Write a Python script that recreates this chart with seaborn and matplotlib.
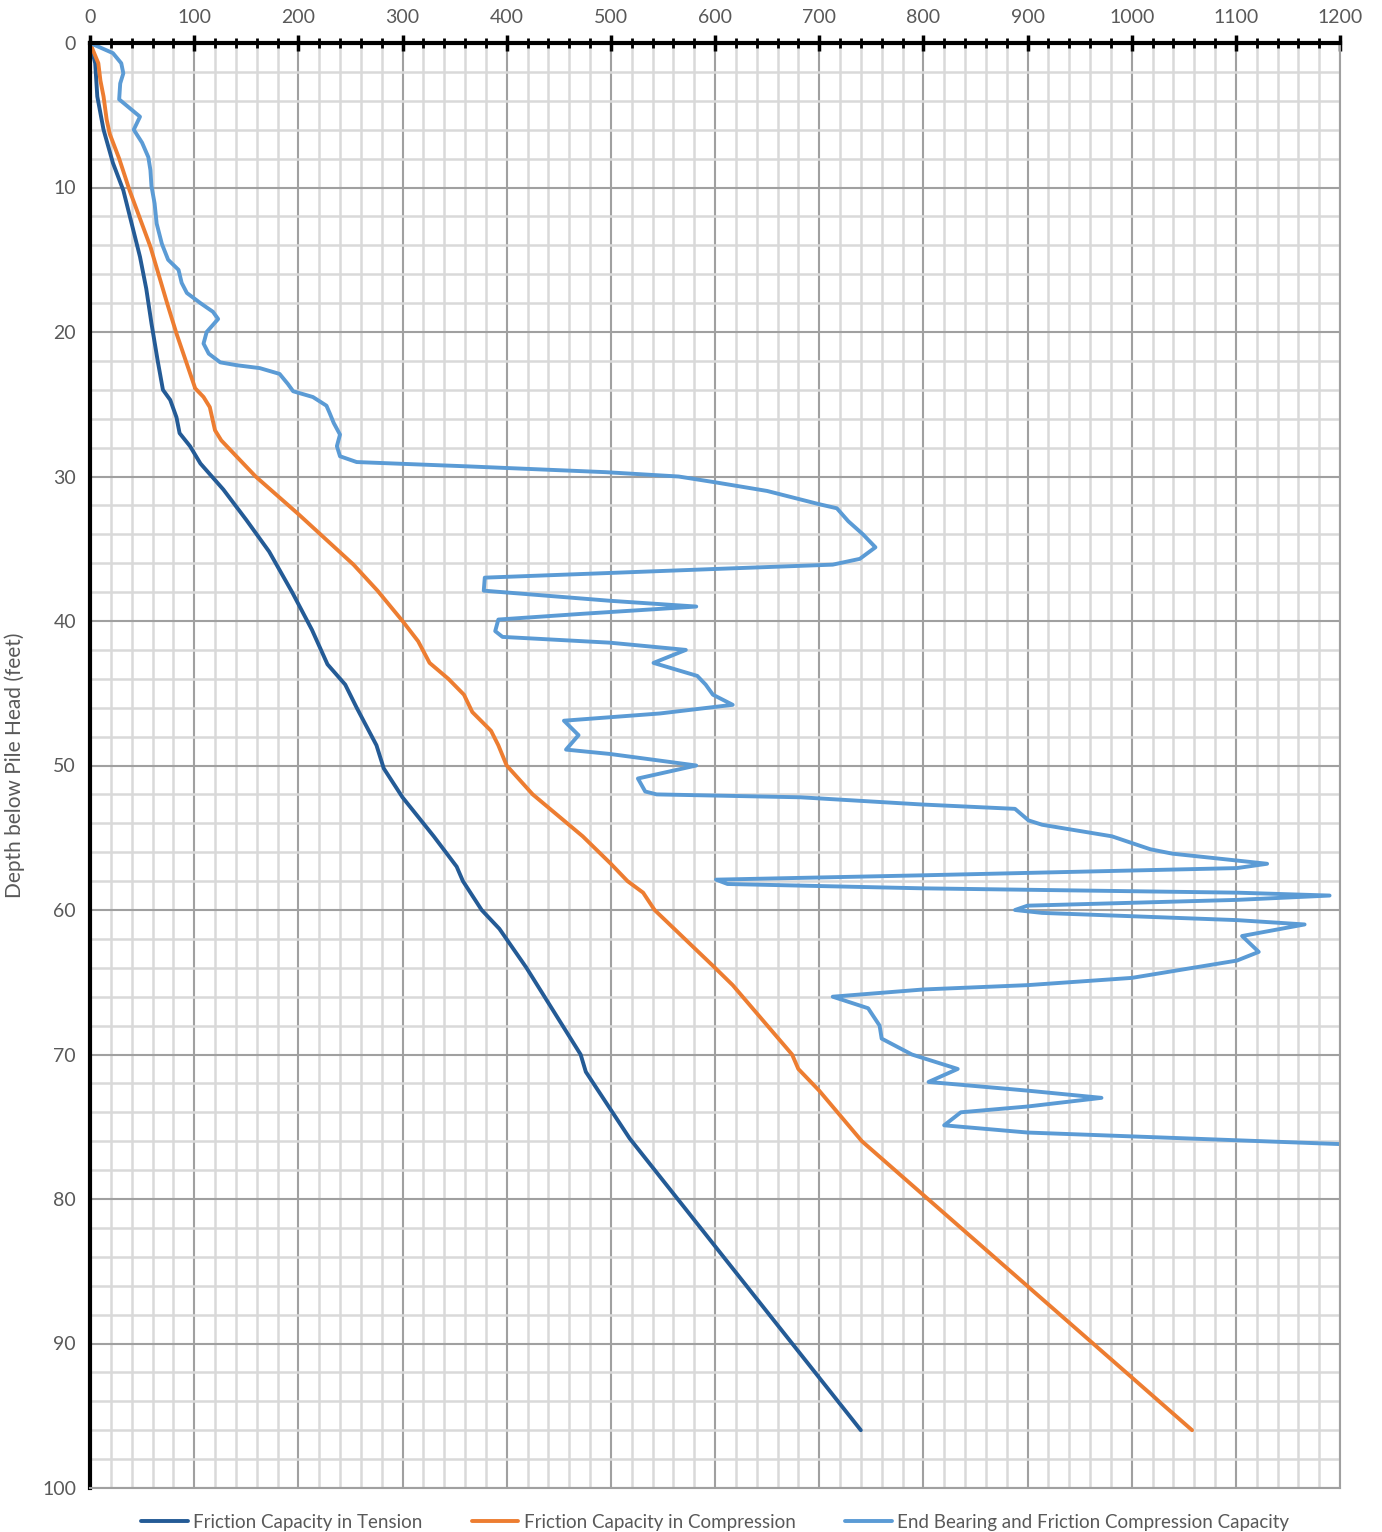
import matplotlib
matplotlib.use("Agg")
import matplotlib.pyplot as plt
import seaborn as sns
from matplotlib.ticker import MultipleLocator

# depth below pile head (ft) and capacity (kips)
tension_depth = [0, 1.4, 3.7, 6, 8.3, 10.2, 12.5, 14.8, 17, 19.4, 22, 24, 24.7, 25.9, 27, 27.9,
                 29.1, 30.9, 33, 35.2, 38, 40.6, 43, 44.4, 46, 48.6, 50.2, 52.2, 54.9, 57, 58, 59,
                 60, 61.3, 64, 67, 70, 71.2, 73.5, 75.8, 96]
tension_cap = [0, 5, 7, 13, 22, 32, 40, 48, 54, 59, 65, 70, 77, 83, 86, 96,
               106, 128, 150, 172, 194, 213, 228, 245, 256, 275, 282, 300, 330, 352, 358, 367,
               376, 393, 419, 445, 471, 476, 497, 518, 740]

compression_depth = [0, 1.4, 2.6, 3.7, 5.3, 6.3, 8, 10.2, 14.1, 18, 20.1, 22, 23.9, 24.5, 25.2,
                     26.8, 27.5, 30, 32.6, 36.1, 37.9, 40, 41.4, 42.9, 44, 45.1, 46.3, 47.6, 48.6,
                     50, 52, 54.9, 56.8, 58, 58.8, 60, 64, 65.2, 70, 71, 72.5, 76, 96]
compression_cap = [0, 8, 10, 13, 16, 19, 28, 38, 58, 74, 83, 92, 101, 109, 115,
                   120, 126, 159, 200, 253, 276, 300, 315, 326, 344, 359, 367, 385, 392,
                   400, 425, 473, 500, 516, 531, 542, 600, 617, 674, 680, 700, 741, 1058]

bearing_depth = [0, 0.7, 1.4, 2.1, 2.8, 3.9, 4.5, 5.1, 6.0, 6.9, 7.9, 8.8, 9.9, 11.1, 12.5, 13.9,
                 15.0, 15.7, 16.6, 17.3, 18.0, 18.6, 19.1, 20.0, 20.8, 21.5, 22.1, 22.3, 22.5, 22.9,
                 23.6, 24.1, 24.5, 25.1, 25.6, 26.3, 27.1, 27.9, 28.6, 29.0, 29.3, 29.7, 30.0, 30.4,
                 31.0, 31.9, 32.2, 33.1, 34.0, 34.9, 35.7, 36.1, 36.4, 36.7, 37.0, 37.9, 38.6, 39.0,
                 39.5, 39.9, 40.7, 41.1, 41.5, 42.0, 42.9, 43.8, 44.4, 45.1, 45.8, 46.4, 46.9, 47.9,
                 48.9, 49.2, 50.0, 50.9, 51.8, 52.0, 52.2, 52.7, 53.0, 53.8, 54.1, 54.9, 55.8, 56.1,
                 56.8, 57.1, 57.6, 57.9, 58.2, 58.5, 58.8, 59.0, 59.3, 59.7, 60.0, 60.2, 60.7, 61.0,
                 61.8, 62.9, 63.5, 64.7, 65.2, 65.5, 66.0, 66.8, 68.0, 68.9, 70.0, 71.0, 71.9, 72.5,
                 73.0, 73.6, 74.0, 74.9, 75.4, 76.2, 77.0]
bearing_cap = [0, 22, 30, 32, 29, 28, 38, 48, 42, 50, 56, 58, 59, 62, 64, 69,
               75, 85, 88, 93, 106, 118, 123, 112, 109, 114, 125, 141, 163, 182,
               190, 195, 214, 227, 230, 234, 240, 237, 240, 256, 363, 495, 565, 600,
               650, 699, 717, 728, 742, 754, 739, 713, 600, 490, 379, 378, 499, 582,
               473, 392, 389, 396, 499, 572, 541, 583, 591, 598, 617, 547, 455, 469,
               457, 499, 582, 526, 533, 544, 682, 799, 888, 901, 914, 981, 1018, 1039,
               1130, 1101, 799, 601, 612, 799, 1101, 1190, 1101, 900, 888, 914, 1101, 1166,
               1106, 1122, 1101, 1000, 900, 800, 713, 747, 758, 760, 789, 833, 805, 900,
               971, 900, 836, 820, 900, 1200, 1480]

sns.set_style("white")
plt.rcParams['font.family'] = ['Lato', 'DejaVu Sans']

fig = plt.figure(figsize=(13.82, 15.32), dpi=100)
ax = fig.add_axes([90 / 1382, 1 - 1488 / 1532, 1250 / 1382, 1445 / 1532])

series = [
    (tension_cap, tension_depth, '#245B96', 'Friction Capacity in Tension'),
    (compression_cap, compression_depth, '#ED7D31', 'Friction Capacity in Compression'),
    (bearing_cap, bearing_depth, '#5B9BD5', 'End Bearing and Friction Compression Capacity'),
]
for xs, ys, col, lab in series:
    sns.lineplot(x=xs, y=ys, sort=False, estimator=None, orient='y', color=col,
                 linewidth=2.8, label=lab, ax=ax)

ax.set_xlim(0, 1200)
ax.set_ylim(100, 0)
ax.xaxis.set_major_locator(MultipleLocator(100))
ax.xaxis.set_minor_locator(MultipleLocator(20))
ax.yaxis.set_major_locator(MultipleLocator(10))
ax.yaxis.set_minor_locator(MultipleLocator(2))
ax.set_axisbelow(True)
ax.grid(which='minor', color='#d9d9d9', linewidth=1.8)
ax.grid(which='major', color='#a0a0a0', linewidth=1.5)

ax.xaxis.tick_top()
ax.tick_params(which='both', direction='inout', color='black', labelcolor='#595959',
               labelsize=14, bottom=False, right=False)
ax.tick_params(which='major', length=12, width=2.5, pad=4)
ax.tick_params(which='minor', length=7, width=2)
ax.tick_params(axis='x', which='major', pad=6)

for side in ['top', 'left']:
    ax.spines[side].set_color('black')
    ax.spines[side].set_linewidth(3)
for side in ['right', 'bottom']:
    ax.spines[side].set_color('#a0a0a0')
    ax.spines[side].set_linewidth(1.5)

ax.set_xlabel('')
ax.set_ylabel('Depth below Pile Head (feet)', fontsize=15, color='#595959', labelpad=12)

ax.legend(loc='upper center', bbox_to_anchor=(0.5, -0.006), ncol=3, frameon=False,
          fontsize=13.5, handlelength=2.5, handletextpad=0.3, columnspacing=2.6,
          labelcolor='#595959')

fig.savefig('out.png', dpi=100)
